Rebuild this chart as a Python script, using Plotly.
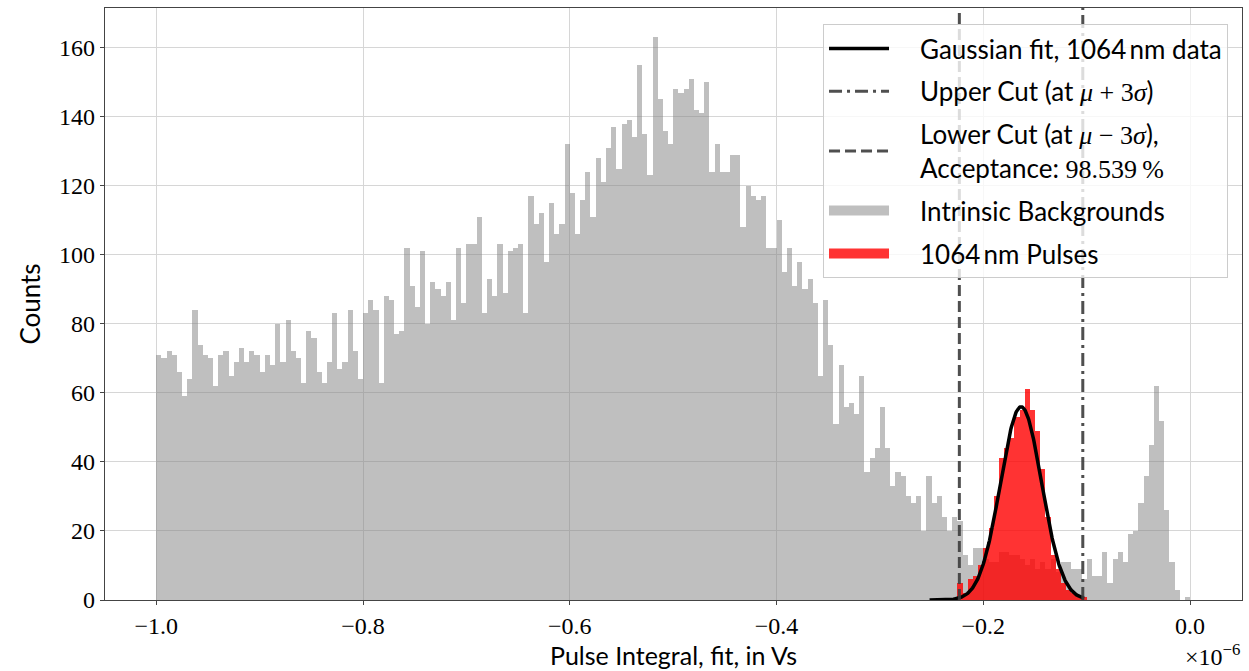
import numpy as np
import plotly.graph_objects as go

# ---------------- data (x in units of 1e-6 Vs) ----------------
BIN_START = -1.0
BIN_WIDTH = 0.005

background_counts = [
    71, 70, 72, 71, 66, 59, 64, 84, 74, 71, 70, 62, 71, 72, 65, 69, 73, 69, 72, 71,
    66, 71, 68, 80, 69, 81, 72, 70, 63, 78, 76, 66, 63, 69, 83, 67, 69, 84, 72, 64,
    83, 87, 84, 63, 88, 87, 77, 78, 102, 91, 85, 101, 80, 92, 90, 88, 92, 81, 102, 86,
    103, 103, 111, 83, 93, 88, 103, 89, 101, 102, 103, 83, 117, 109, 112, 98, 115, 106, 109, 132,
    118, 106, 116, 124, 111, 128, 121, 131, 137, 125, 138, 139, 134, 155, 135, 123, 163, 145, 136, 132,
    148, 147, 148, 151, 142, 141, 150, 124, 132, 124, 124, 129, 129, 108, 120, 117, 116, 117, 102, 102,
    110, 95, 102, 91, 98, 90, 93, 86, 65, 87, 74, 51, 68, 56, 57, 54, 65, 37, 41, 44,
    56, 44, 33, 37, 36, 30, 28, 30, 20, 36, 28, 30, 24, 20, 24, 23, 13, 10, 15, 15,
    12, 11, 11, 14, 14, 13, 13, 12, 10, 12, 9, 11, 9, 12, 8, 11, 11, 9, 9, 6,
    12, 7, 7, 14, 5, 12, 14, 11, 19, 20, 28, 36, 45, 62, 52, 26, 11, 3, 0, 1,
]

PULSE_FIRST_BIN = 155
pulse_counts = [5, 2, 6, 7, 10, 15, 21, 30, 41, 44, 47, 53, 55, 61, 55, 49, 38, 24, 13, 9,
                5, 3, 2, 1, 1]

# Gaussian fit parameters
FIT_MU = -0.1635
FIT_SIGMA = 0.0199
FIT_AMP = 56.0
FIT_X_MIN = -0.252
FIT_X_MAX = -0.1025
ACCEPTANCE = "98.539"

X_TICKS = [-1.0, -0.8, -0.6, -0.4, -0.2, 0.0]
Y_TICKS = [0, 20, 40, 60, 80, 100, 120, 140, 160]
X_RANGE = [-1.0496, 0.0502]
Y_RANGE = [0, 171.5]

# ---------------- derived ----------------
bg_centers = [BIN_START + BIN_WIDTH * (i + 0.5) for i in range(len(background_counts))]
pu_centers = [BIN_START + BIN_WIDTH * (PULSE_FIRST_BIN + i + 0.5) for i in range(len(pulse_counts))]
fit_x = np.linspace(FIT_X_MIN, FIT_X_MAX, 300)
fit_y = FIT_AMP * np.exp(-0.5 * ((fit_x - FIT_MU) / FIT_SIGMA) ** 2)
lower_cut = FIT_MU - 3 * FIT_SIGMA
upper_cut = FIT_MU + 3 * FIT_SIGMA

SANS = "Lato"
SERIF = "Liberation Serif"
GRAY_BAR = "rgba(128,128,128,0.5)"
RED_BAR = "rgba(255,0,0,0.8)"
CUT_COLOR = "rgba(60,60,60,0.9)"
SP = "\u2002\u2002"


def serif(s):
    return f"<span style=\"font-family:'{SERIF}'\">{s}</span>"


fig = go.Figure()

# bars (drawn in bar layer, below lines)
fig.add_trace(go.Bar(x=bg_centers, y=background_counts, width=BIN_WIDTH,
                     marker=dict(color=GRAY_BAR, line=dict(width=0)),
                     showlegend=False, name="Intrinsic Backgrounds"))
fig.add_trace(go.Bar(x=pu_centers, y=pulse_counts, width=BIN_WIDTH,
                     marker=dict(color=RED_BAR, line=dict(width=0)),
                     showlegend=False, name="1064 nm Pulses"))

# lines
fig.add_trace(go.Scatter(x=fit_x, y=fit_y, mode="lines",
                         line=dict(color="black", width=3.5),
                         name=SP + "Gaussian fit, 1064\u2009nm data",
                         legendgroup="a", legendrank=1))
fig.add_trace(go.Scatter(x=[upper_cut, upper_cut], y=Y_RANGE, mode="lines",
                         line=dict(color=CUT_COLOR, width=3, dash="13px,5px,3px,5px"),
                         name=SP + "Upper Cut (at " + serif("<i>μ</i> + 3<i>σ</i>") + ")",
                         legendgroup="b", legendrank=2))
fig.add_trace(go.Scatter(x=[lower_cut, lower_cut], y=Y_RANGE, mode="lines",
                         line=dict(color=CUT_COLOR, width=3, dash="11px,5px"),
                         name=SP + "Lower Cut (at " + serif("<i>μ</i> − 3<i>σ</i>") + "),<br>"
                              + SP + "Acceptance: " + serif(ACCEPTANCE + "\u2009%"),
                         legendgroup="c", legendrank=3))
# legend proxies for the histograms
fig.add_trace(go.Scatter(x=[None], y=[None], mode="lines",
                         line=dict(color="rgb(191,191,191)", width=14),
                         name=SP + "Intrinsic Backgrounds", legendgroup="d", legendrank=4))
fig.add_trace(go.Scatter(x=[None], y=[None], mode="lines",
                         line=dict(color="rgb(255,51,51)", width=14),
                         name=SP + "1064\u2009nm Pulses", legendgroup="e", legendrank=5))

axis_common = dict(showline=True, mirror=True, linecolor="#444", linewidth=1.2,
                   ticks="outside", ticklen=4, tickcolor="#444",
                   showgrid=True, gridcolor="#d6d6d6", gridwidth=1, zeroline=False,
                   tickfont=dict(family=SERIF, size=24, color="black"))

fig.update_layout(
    width=1249, height=671,
    margin=dict(l=105, r=6, t=8, b=69),
    paper_bgcolor="white", plot_bgcolor="white",
    barmode="overlay", bargap=0,
    xaxis=dict(range=X_RANGE, tickvals=X_TICKS, tickformat=".1f",
               title=dict(text="Pulse Integral, fit, in Vs", font=dict(family=SANS, size=25, color="black"),
                          standoff=9),
               **axis_common),
    yaxis=dict(range=Y_RANGE, tickvals=Y_TICKS,
               title=dict(text="Counts", font=dict(family=SANS, size=26, color="black"), standoff=10),
               **axis_common),
    legend=dict(x=0.9877, y=0.973, xanchor="right", yanchor="top",
                bgcolor="rgba(255,255,255,0.8)", bordercolor="#cccccc", borderwidth=1,
                font=dict(family=SANS, size=26, color="black"),
                traceorder="grouped", tracegroupgap=6, itemwidth=60),
    annotations=[dict(text="×10<sup>−6</sup>", xref="paper", yref="paper", x=1.0, y=0,
                      xanchor="right", yanchor="top", yshift=-38, showarrow=False,
                      font=dict(family=SERIF, size=24, color="black"))],
)

fig.write_html("out.html")
